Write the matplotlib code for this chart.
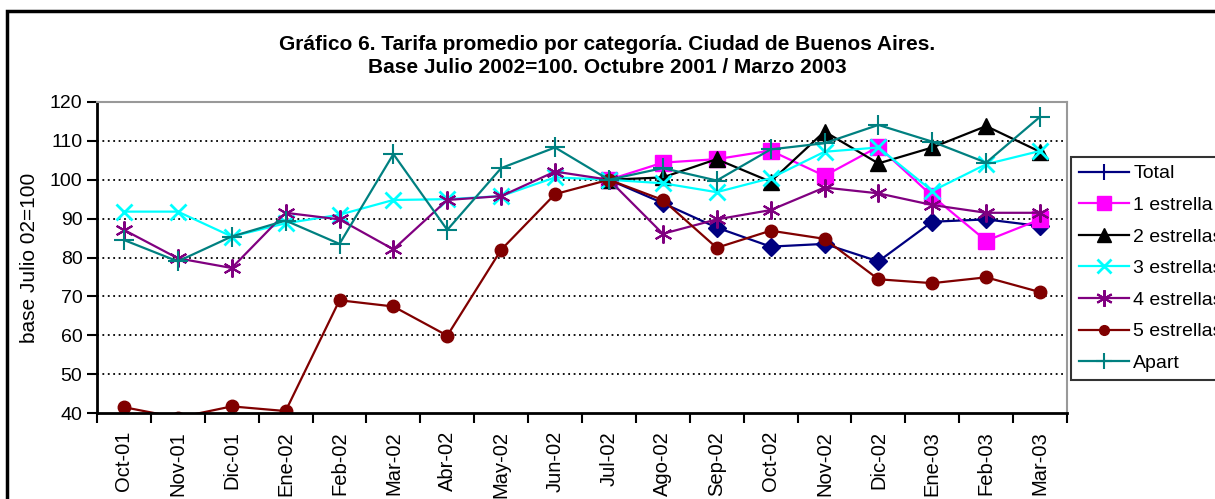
import numpy as np
import matplotlib
matplotlib.use("Agg")
import matplotlib.pyplot as plt
from matplotlib.patches import Rectangle
from matplotlib.lines import Line2D

plt.rcParams['font.family'] = ['Liberation Sans', 'DejaVu Sans']

months = ["Oct-01", "Nov-01", "Dic-01", "Ene-02", "Feb-02", "Mar-02", "Abr-02", "May-02", "Jun-02",
          "Jul-02", "Ago-02", "Sep-02", "Oct-02", "Nov-02", "Dic-02", "Ene-03", "Feb-03", "Mar-03"]
nan = np.nan
total = [nan, nan, nan, nan, nan, nan, nan, nan, nan,
         100, 94.0, 87.7, 82.8, 83.5, 79.0, 89.2, 89.8, 88.1]
una = [nan, nan, nan, nan, nan, nan, nan, nan, nan,
       100, 104.4, 105.3, 107.5, 101.0, 108.5, 95.8, 84.3, 89.8]
dos = [nan, nan, nan, nan, nan, nan, nan, nan, nan,
       100, 100.6, 105.3, 99.5, 112.4, 104.2, 108.3, 113.8, 107.2]
tres = [91.8, 91.8, 85.4, 88.8, 91.0, 94.8, 95.0, 95.8, 100.6,
        100, 99.1, 96.8, 100.4, 107.2, 108.3, 97.1, 104.0, 107.4]
cuatro = [87.1, 79.8, 77.3, 91.5, 89.8, 82.1, 94.8, 95.8, 102.1,
          100, 86.1, 89.8, 92.2, 98.0, 96.5, 93.5, 91.5, 91.5]
cinco = [41.5, 38.8, 41.7, 40.5, 69.0, 67.4, 59.9, 82.0, 96.3,
         100, 94.8, 82.5, 86.9, 84.8, 74.4, 73.4, 74.9, 71.1]
apart = [84.5, 79.0, 85.4, 89.5, 83.5, 106.6, 87.1, 103.0, 108.3,
         100, 103.0, 99.8, 107.8, 109.4, 114.1, 109.8, 104.4, 116.2]

W, H = 1215, 499
fig = plt.figure(figsize=(W / 100, H / 100), dpi=100)
ax = fig.add_axes([97 / W, 1 - 413 / H, (1067 - 97) / W, (413 - 102) / H])

x = np.arange(len(months))
lw = 1.6
ax.plot(x, total, color="#000080", marker="D", ms=9, lw=lw)
ax.plot(x, una, color="#FF00FF", marker="s", ms=11, lw=lw)
ax.plot(x, dos, color="black", marker="^", ms=11, lw=lw)
ax.plot(x, tres, color="#00FFFF", marker="x", ms=11, mew=2, lw=lw)
ax.plot(x, cuatro, color="#800080", marker=(6, 2, 0), ms=13, mew=1.5, lw=lw)
ax.plot(x, cinco, color="#800000", marker="o", ms=9, lw=lw)
ax.plot(x, apart, color="#008080", marker="+", ms=14, mew=1.5, lw=lw)

ax.set_xlim(-0.5, len(months) - 0.5)
ax.set_ylim(40, 120)
ax.set_yticks(range(40, 121, 10))
ax.set_xticks(x)
ax.set_xticklabels(months, rotation=90)
ax.set_xticks(np.arange(-0.5, len(months), 1), minor=True)
ax.tick_params(axis="x", which="major", length=0, labelsize=14.5, pad=13)
ax.tick_params(axis="x", which="minor", length=7, width=1.5)
ax.tick_params(axis="y", length=7, width=1.5, labelsize=14)

for v in range(50, 120, 10):
    ax.axhline(v, color="black", lw=1.3, ls=(0, (1, 2)), zorder=0)

for s in ["left", "bottom"]:
    ax.spines[s].set_linewidth(2)
for s in ["top", "right"]:
    ax.spines[s].set_color("#999999")
    ax.spines[s].set_linewidth(1.5)

ax.set_ylabel("base Julio 02=100", fontsize=15, labelpad=8)

fig.text(0.5, 1 - 56 / H, "Gráfico 6. Tarifa promedio por categoría. Ciudad de Buenos Aires.\n"
         "Base Julio 2002=100. Octubre 2001 / Marzo 2003",
         ha="center", va="center", fontsize=15, fontweight="bold", linespacing=1.3)

# legend handles as drawn in the reference
handles = [
    Line2D([], [], color="#000080", marker="|", ms=12, mew=1.5, lw=lw),
    Line2D([], [], color="#FF00FF", marker="s", ms=10, lw=lw),
    Line2D([], [], color="black", marker="^", ms=10, lw=lw),
    Line2D([], [], color="#00FFFF", marker="x", ms=10, mew=2, lw=lw),
    Line2D([], [], color="#800080", marker=(6, 2, 0), ms=12, mew=1.5, lw=lw),
    Line2D([], [], color="#800000", marker="o", ms=7, lw=lw),
    Line2D([], [], color="#008080", marker="+", ms=12, mew=1.5, lw=lw),
]
labels = ["Total", "1 estrella", "2 estrellas", "3 estrellas", "4 estrellas", "5 estrellas", "Apart"]
leg = fig.legend(handles, labels, loc="upper left", bbox_to_anchor=(1071 / W, 1 - 157 / H), fontsize=14,
                 frameon=True, fancybox=False, handlelength=2.6, borderaxespad=0,
                 labelspacing=0.72, handletextpad=0.2, borderpad=0.4)
leg.get_frame().set_edgecolor("black")
leg.get_frame().set_linewidth(1.5)

fig.patches.append(Rectangle((7 / W, -0.1), 1.2, 1 - 11 / H + 0.1, transform=fig.transFigure,
                             fill=False, edgecolor="black", lw=2.5))

fig.savefig("out.png", dpi=100)
